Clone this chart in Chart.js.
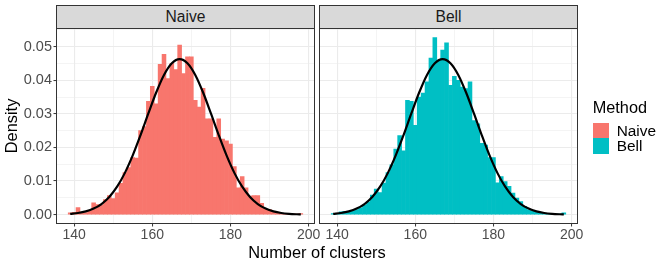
<!DOCTYPE html>
<html>
<head>
<meta charset="utf-8">
<script src="https://cdn.jsdelivr.net/npm/chart.js@4.4.1/dist/chart.umd.min.js"></script>
<style>
  html, body { margin: 0; padding: 0; background: #fff; }
  body { width: 664px; height: 266px; position: relative; overflow: hidden; font-family: "Liberation Sans", Arial, sans-serif; }
  canvas { position: absolute; top: 0; }
  #naiveChart { left: 0; }
  #bellChart { left: 316px; }
  .strip { position: absolute; top: 5px; height: 24px; box-sizing: border-box; background: #D9D9D9; border: 1px solid #333;
           font-size: 15.6px; color: #1A1A1A; display: flex; align-items: center; justify-content: center; }
  .txt { position: absolute; white-space: nowrap; line-height: 1; color: #000; }
  .key { position: absolute; left: 593px; width: 15.5px; height: 15.5px; }
</style>
</head>
<body>
<canvas id="naiveChart" width="330" height="266"></canvas>
<canvas id="bellChart" width="348" height="266"></canvas>
<div class="strip" style="left:56px; width:259px;">Naive</div>
<div class="strip" style="left:319px; width:259px;">Bell</div>
<div class="txt" style="left:0; width:634px; text-align:center; top:244px; font-size:16.4px;">Number of clusters</div>
<div class="txt" style="left:592.7px; top:98.8px; font-size:16.3px;">Method</div>
<div class="key" style="top:122.5px; background:#F8766D;"></div>
<div class="key" style="top:138px; background:#00BFC4;"></div>
<div class="txt" style="left:616.7px; top:123px; font-size:15.4px;">Naive</div>
<div class="txt" style="left:616.7px; top:138px; font-size:15.4px;">Bell</div>
<script>
// histogram bins (width 1, centred on integers)
const binCenters = [139, 140, 141, 142, 143, 144, 145, 146, 147, 148,
                    149, 150, 151, 152, 153, 154, 155, 156, 157, 158,
                    159, 160, 161, 162, 163, 164, 165, 166, 167, 168,
                    169, 170, 171, 172, 173, 174, 175, 176, 177, 178,
                    179, 180, 181, 182, 183, 184, 185, 186, 187, 188,
                    189, 190, 191, 192, 193, 194, 195, 196, 197, 198];

const naiveDensity = [0.0005, 0.0007, 0.0021, 0.0005, 0.0006, 0.0012, 0.0035, 0.0030, 0.0028, 0.0045,
                      0.0057, 0.0048, 0.0065, 0.0093, 0.0125, 0.0140, 0.0170, 0.0168, 0.0250, 0.0262,
                      0.0337, 0.0382, 0.0330, 0.0447, 0.0477, 0.0405, 0.0450, 0.0432, 0.0505, 0.0420,
                      0.0470, 0.0470, 0.0340, 0.0320, 0.0376, 0.0285, 0.0285, 0.0230, 0.0285, 0.0225,
                      0.0220, 0.0210, 0.0143, 0.0080, 0.0113, 0.0080, 0.0055, 0.0057, 0.0057, 0.0034,
                      0.0016, 0.0015, 0.0007, 0.0005, 0.0004, 0.0003, 0.0003, 0.0002, 0.0002, 0.0003];

const bellDensity = [0.0003, 0.0004, 0.0008, 0.0010, 0.0010, 0.0012, 0.0015, 0.0020, 0.0028, 0.0038,
                     0.0058, 0.0076, 0.0066, 0.0094, 0.0125, 0.0148, 0.0195, 0.0235, 0.0190, 0.0340,
                     0.0337, 0.0266, 0.0350, 0.0362, 0.0395, 0.0466, 0.0527, 0.0460, 0.0490, 0.0511,
                     0.0385, 0.0412, 0.0400, 0.0380, 0.0375, 0.0395, 0.0280, 0.0270, 0.0212, 0.0207,
                     0.0170, 0.0170, 0.0095, 0.0113, 0.0098, 0.0084, 0.0064, 0.0049, 0.0039, 0.0025,
                     0.0015, 0.0010, 0.0007, 0.0005, 0.0004, 0.0003, 0.0003, 0.0002, 0.0002, 0.0005];

// fitted density curve (same in both panels)
const curveX = [139, 141, 143, 145, 147, 149, 151, 153, 155, 157, 159, 161, 163, 165, 167,
                169, 171, 173, 175, 177, 179, 181, 183, 185, 187, 189, 191, 193, 195, 197, 198];
const curveDensity = [0.00024, 0.00049, 0.00097, 0.00180, 0.00316, 0.00526, 0.00831, 0.01243, 0.01762, 0.02367,
                      0.03013, 0.03635, 0.04158, 0.04507, 0.04630, 0.04507, 0.04158, 0.03635, 0.03013, 0.02367,
                      0.01762, 0.01243, 0.00831, 0.00526, 0.00316, 0.00180, 0.00097, 0.00049, 0.00024, 0.00011, 0.00007];

const xTickLabels = ['140', '160', '180', '200'];
const yTickLabels = ['0.00', '0.01', '0.02', '0.03', '0.04', '0.05'];

Chart.defaults.font.family = '"Liberation Sans", Arial, sans-serif';

const isMajorX = v => xTickLabels.includes(String(Math.round(v)));
const isMajorY = v => yTickLabels.includes(v.toFixed(2)) && Math.abs(v * 100 - Math.round(v * 100)) < 1e-6;

// full border round each panel
const panelBorder = {
    id: 'panelBorder',
    afterDraw(chart) {
        const a = chart.chartArea, ctx = chart.ctx;
        ctx.save();
        ctx.strokeStyle = '#333333';
        ctx.lineWidth = 1;
        ctx.strokeRect(a.left, a.top, a.right - a.left, a.bottom - a.top);
        ctx.restore();
    }
};

function makePanel(id, values, color, showY, yWidth, padRight) {
    return new Chart(document.getElementById(id), {
        type: 'bar',
        data: {
            datasets: [
                {
                    type: 'line',
                    data: curveX.map((x, i) => ({ x: x, y: curveDensity[i] })),
                    borderColor: '#000',
                    borderWidth: 2.2,
                    pointRadius: 0,
                    fill: false,
                    cubicInterpolationMode: 'monotone',
                    order: 0
                },
                {
                    type: 'bar',
                    data: values.map((v, i) => ({ x: binCenters[i], y: v })),
                    backgroundColor: color,
                    borderWidth: 0,
                    barPercentage: 1,
                    categoryPercentage: 1,
                    order: 1
                }
            ]
        },
        options: {
            responsive: false,
            animation: false,
            layout: { padding: { top: 28.5, right: padRight, bottom: 0, left: 0 } },
            plugins: { legend: { display: false }, tooltip: { enabled: false } },
            scales: {
                x: {
                    type: 'linear',
                    min: 135.5,
                    max: 201.5,
                    offset: false,
                    border: { display: false },
                    grid: {
                        offset: false,
                        color: '#EBEBEB',
                        lineWidth: c => isMajorX(c.tick.value) ? 1.1 : 0.55,
                        tickColor: c => isMajorX(c.tick.value) ? '#333333' : 'rgba(0,0,0,0)',
                        tickLength: 3,
                        tickWidth: 1
                    },
                    ticks: {
                        stepSize: 10,
                        includeBounds: false,
                        autoSkip: false,
                        maxRotation: 0,
                        padding: 0,
                        color: '#4D4D4D',
                        font: { size: 14 },
                        callback: v => isMajorX(v) ? String(v) : ''
                    },
                    afterFit: s => { s.height = 42.5; }
                },
                y: {
                    min: -0.00264,
                    max: 0.0554,
                    border: { display: false },
                    grid: {
                        color: '#EBEBEB',
                        lineWidth: c => isMajorY(c.tick.value) ? 1.1 : 0.55,
                        tickColor: c => isMajorY(c.tick.value) ? '#333333' : 'rgba(0,0,0,0)',
                        drawTicks: showY,
                        tickLength: 3,
                        tickWidth: 1
                    },
                    ticks: {
                        display: showY,
                        stepSize: 0.005,
                        includeBounds: false,
                        autoSkip: false,
                        padding: 1.5,
                        color: '#4D4D4D',
                        font: { size: 14.5 },
                        callback: v => isMajorY(v) ? v.toFixed(2) : ''
                    },
                    title: {
                        display: showY,
                        text: 'Density',
                        color: '#000',
                        font: { size: 16.4 },
                        padding: { top: 2.6, bottom: 0 }
                    },
                    afterFit: s => { s.width = yWidth; }
                }
            }
        },
        plugins: [panelBorder]
    });
}

makePanel('naiveChart', naiveDensity, '#F8766D', true, 56.5, 15.5);
makePanel('bellChart', bellDensity, '#00BFC4', false, 3.5, 86.5);
</script>
</body>
</html>
